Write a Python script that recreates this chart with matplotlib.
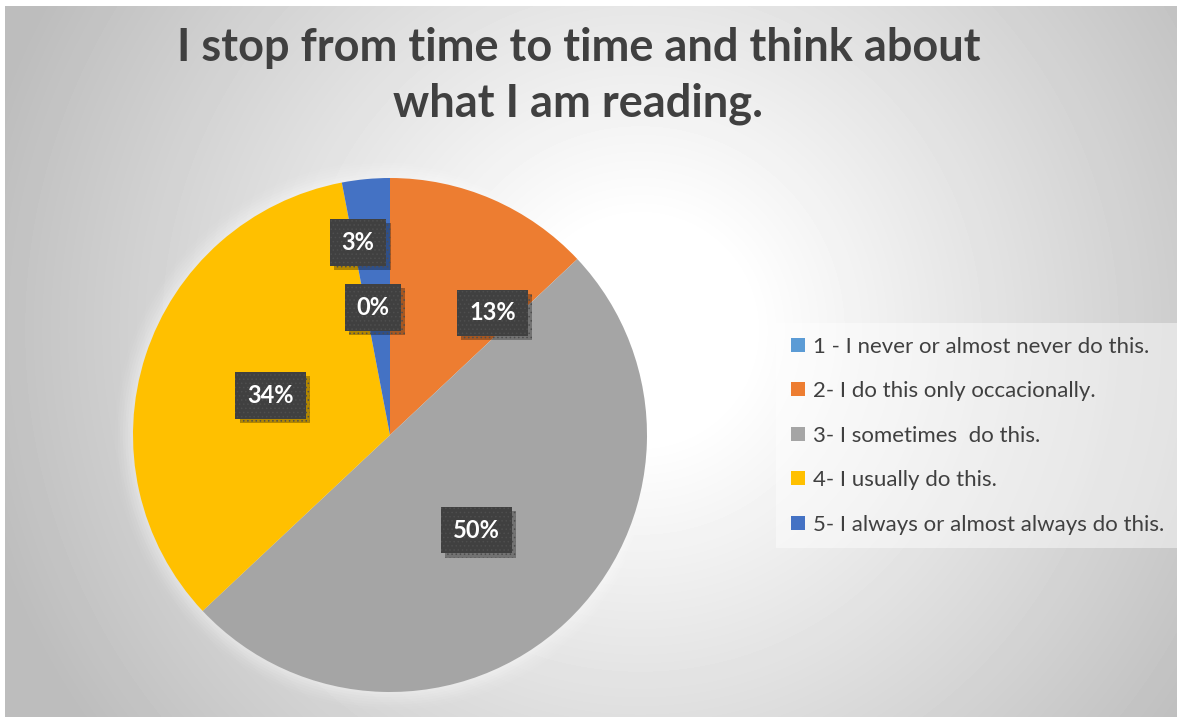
import numpy as np
import matplotlib.pyplot as plt
from matplotlib.lines import Line2D
from matplotlib.patches import Circle
import matplotlib.patheffects as pe

title = "I stop from time to time and think about\nwhat I am reading."
categories = [
    "1 - I never or almost never do this.",
    "2- I do this only occacionally.",
    "3- I sometimes  do this.",
    "4- I usually do this.",
    "5- I always or almost always do this.",
]
percents = [0, 13, 50, 34, 3]
colors = ["#5B9BD5", "#ED7D31", "#A5A5A5", "#FFC000", "#4472C4"]

# where each percentage box sits: fraction of radius and clockwise nudge (deg)
label_r = [0.50, 0.62, 0.50, 0.49, 0.76]
label_nudge = [-7.6, 16.6, 1.0, 0.4, -4.0]

plt.rcParams["hatch.linewidth"] = 0.6

W, H = 1177, 717
fig = plt.figure(figsize=(W / 100, H / 100), dpi=100)
fig.patch.set_facecolor("white")

# radial grey-to-white background of the chart area
bg = fig.add_axes([5 / W, 0, 1 - 5 / W, 1 - 6 / H])
bg.set_axis_off()
yy, xx = np.mgrid[6:H, 5:W]
d = np.hypot(xx - 640, yy - 330)
shade = 1 - 0.26 * np.clip((d - 110) / 570, 0, 1)
bg.imshow(shade, cmap="gray", vmin=0, vmax=1, aspect="auto", interpolation="bilinear")
for s in bg.spines.values():
    s.set_visible(True)
    s.set_color("#d4d4d4")
    s.set_linewidth(1.2)

fig.text(0.4915, 1 - 76 / H, title, ha="center", va="center", fontsize=32.5,
         fontweight="bold", color="#404040", family=["Lato", "DejaVu Sans"],
         linespacing=1.4)

cx, cy, r = 390, 435, 257
ax = fig.add_axes([(cx - r) / W, (H - cy - r) / H, 2 * r / W, 2 * r / H])
ax.set_axis_off()

# soft light glow around the pie
for k, a in zip(np.linspace(1.07, 1.0, 8), np.linspace(0.04, 0.12, 8)):
    ax.add_patch(Circle((0, 0), k, color="white", alpha=a, lw=0, zorder=0,
                        clip_on=False))

wedges, _ = ax.pie(percents, colors=colors, startangle=90, counterclock=False,
                   radius=1, wedgeprops=dict(linewidth=0, zorder=1))
ax.set_xlim(-1, 1)
ax.set_ylim(-1, 1)

for w, p, lr, nudge in zip(wedges, percents, label_r, label_nudge):
    mid = np.deg2rad((w.theta1 + w.theta2) / 2 - nudge)
    t = ax.text(lr * np.cos(mid), lr * np.sin(mid), f"{p}%", ha="center", va="center",
                fontsize=17, fontweight="bold", color="white",
                family=["Lato", "DejaVu Sans"], zorder=5,
                bbox=dict(boxstyle="square,pad=0.5", facecolor="#404040",
                          edgecolor="#4e4e4e", linewidth=0, hatch="...."))
    t.get_bbox_patch().set_path_effects([
        pe.withSimplePatchShadow(offset=(3, -3), shadow_rgbFace="black", alpha=0.3),
        pe.Normal()])

handles = [Line2D([], [], marker="s", linestyle="none", markersize=9.5,
                  markerfacecolor=c, markeredgewidth=0) for c in colors]
leg = fig.legend(handles, categories, loc="upper left",
                 bbox_to_anchor=(776 / W, 1 - 323 / H), borderaxespad=0,
                 frameon=True, fancybox=False, labelcolor="#404040",
                 prop=dict(family=["Lato", "DejaVu Sans"], size=16),
                 handlelength=0.7, handletextpad=0.35, labelspacing=1.1,
                 borderpad=0.62)
leg.get_frame().set_facecolor("white")
leg.get_frame().set_alpha(0.45)
leg.get_frame().set_linewidth(0)

fig.savefig("out.png", dpi=100)
